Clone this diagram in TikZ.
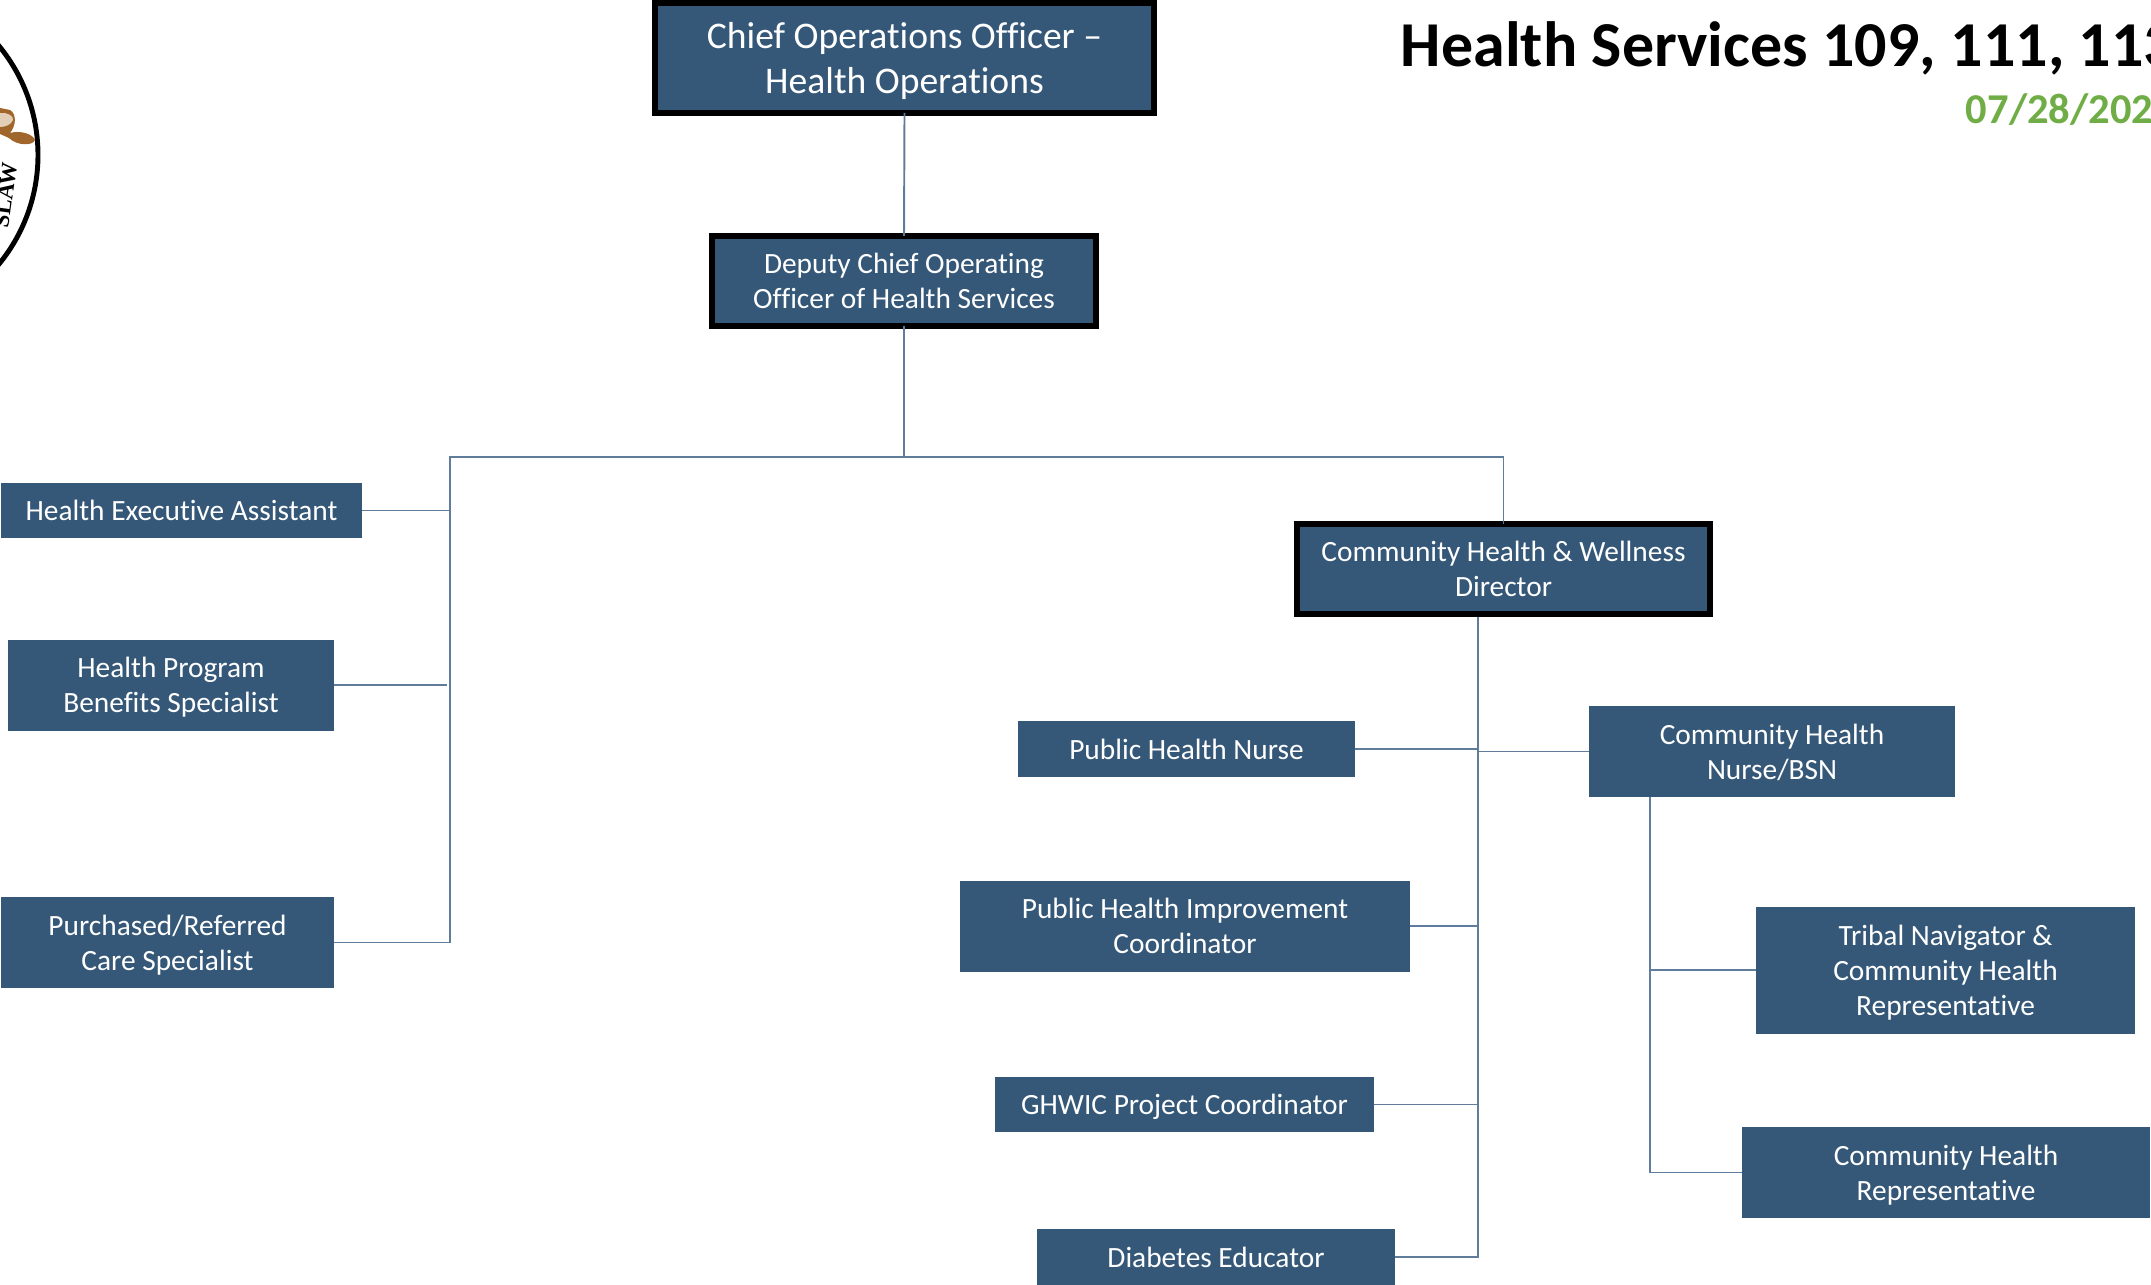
\documentclass[tikz,border=0pt]{standalone}
\usepackage{fontspec}
\setmainfont{Carlito}[Ligatures={TeX,NoCommon}]
\newfontfamily\sealfont{Liberation Serif}
\definecolor{boxblue}{HTML}{355878}
\definecolor{linkblue}{HTML}{5F7D9B}
\definecolor{titlegreen}{HTML}{70AD47}
\definecolor{beaverbrown}{HTML}{A0662B}
\definecolor{beavertan}{HTML}{E3CFB8}
\tikzset{
	orgbox/.style={fill=boxblue, text=white, align=center, inner sep=0pt, outer sep=0pt, text depth=0pt, font=\fontsize{8.36}{10}\selectfont},
	headbox/.style={orgbox, draw=black, line width=1.7pt},
	link/.style={draw=linkblue, line width=0.55pt}
}

\begin{document}
\begin{tikzpicture}[line width = 0.55pt]

			\useasboundingbox (0,0) rectangle (21.51,-12.85);
			\clip (0,0) rectangle (21.51,-12.85);

			\draw[black, line width=1.4pt] (-1.34,-1.55) circle (1.72);
			\fill[beaverbrown] (0,-1.08) -- (0.10,-1.10) .. controls (0.17,-1.14) and (0.16,-1.26) .. (0.10,-1.33) .. controls (0.20,-1.30) and (0.33,-1.34) .. (0.35,-1.40) .. controls (0.33,-1.46) and (0.17,-1.46) .. (0.09,-1.38) -- (0,-1.34) -- cycle;
			\fill[beavertan] (0,-1.13) .. controls (0.07,-1.12) and (0.14,-1.16) .. (0.13,-1.20) .. controls (0.11,-1.25) and (0.05,-1.27) .. (0,-1.27) -- cycle;
			\node[rotate=82, font=\sealfont\bfseries\fontsize{6.5}{8}\selectfont, anchor=east, inner sep=0pt] (sealtext) at (0.10,-1.62) {SLAW};

			\node[anchor=west, font=\fontsize{18.2}{20}\selectfont\bfseries, inner sep=0pt] (title) at (14.00,-0.48) {Health Services 109, 111, 113};
			\node[anchor=west, font=\fontsize{12.1}{14}\selectfont\bfseries, text=titlegreen, inner sep=0pt] (date) at (19.65,-1.10) {07/28/202};

			\node[headbox, minimum width=4.99cm, minimum height=1.10cm, font=\fontsize{10.7}{12.8}\selectfont] (coo) at (9.045,-0.58) {Chief Operations Officer --\\Health Operations};
			\node[headbox, minimum width=3.84cm, minimum height=0.90cm] (deputy) at (9.04,-2.81) {Deputy Chief Operating\\Officer of Health Services};
			\node[headbox, minimum width=4.13cm, minimum height=0.90cm] (director) at (15.035,-5.69) {Community Health \& Wellness\\Director};

			\node[orgbox, minimum width=3.61cm, minimum height=0.55cm] (assistant) at (1.815,-5.105) {Health Executive Assistant};
			\node[orgbox, minimum width=3.26cm, minimum height=0.91cm] (benefits) at (1.71,-6.85) {Health Program\\Benefits Specialist};
			\node[orgbox, minimum width=3.33cm, minimum height=0.91cm] (referred) at (1.675,-9.425) {Purchased/Referred\\Care Specialist};

			\node[orgbox, minimum width=3.37cm, minimum height=0.56cm] (phnurse) at (11.865,-7.49) {Public Health Nurse};
			\node[orgbox, minimum width=4.50cm, minimum height=0.91cm] (improve) at (11.85,-9.26) {Public Health Improvement\\Coordinator};
			\node[orgbox, minimum width=3.79cm, minimum height=0.55cm] (ghwic) at (11.845,-11.045) {GHWIC Project Coordinator};
			\node[orgbox, minimum width=3.58cm, minimum height=0.56cm] (diabetes) at (12.16,-12.57) {Diabetes Educator};

			\node[orgbox, minimum width=3.66cm, minimum height=0.91cm] (nursebsn) at (17.72,-7.515) {Community Health\\Nurse/BSN};
			\node[orgbox, minimum width=3.79cm, minimum height=1.27cm] (navigator) at (19.455,-9.70) {Tribal Navigator \&\\Community Health\\Representative};
			\node[orgbox, minimum width=4.08cm, minimum height=0.91cm] (rep) at (19.46,-11.725) {Community Health\\Representative};

			\coordinate (bus) at (9.04,-4.57);
			\coordinate (busleft) at (4.50,-4.57);
			\coordinate (busshort) at (4.47,-6.85);
			\coordinate (trunk) at (14.78,-6.17);
			\coordinate (trunkend) at (14.78,-12.57);
			\coordinate (nursetrunk) at (16.50,-7.97);

			\draw[link] (coo.south) -- (deputy.north);
			\draw[link] (deputy.south) -- (bus);
			\draw[link] (referred.east) -| (busleft) -| (director.north);
			\draw[link] (assistant.east) -- (assistant.east -| busleft);
			\draw[link] (benefits.east) -- (busshort);

			\draw[link] (trunk) -- (trunkend) -- (diabetes.east);
			\draw[link] (phnurse.east) -- (phnurse.east -| trunk);
			\draw[link] (nursebsn.west) -- (nursebsn.west -| trunk);
			\draw[link] (improve.east) -- (improve.east -| trunk);
			\draw[link] (ghwic.east) -- (ghwic.east -| trunk);

			\draw[link] (nursetrunk) |- (rep.west);
			\draw[link] (navigator.west) -- (navigator.west -| nursetrunk);

\end{tikzpicture}
\end{document}
